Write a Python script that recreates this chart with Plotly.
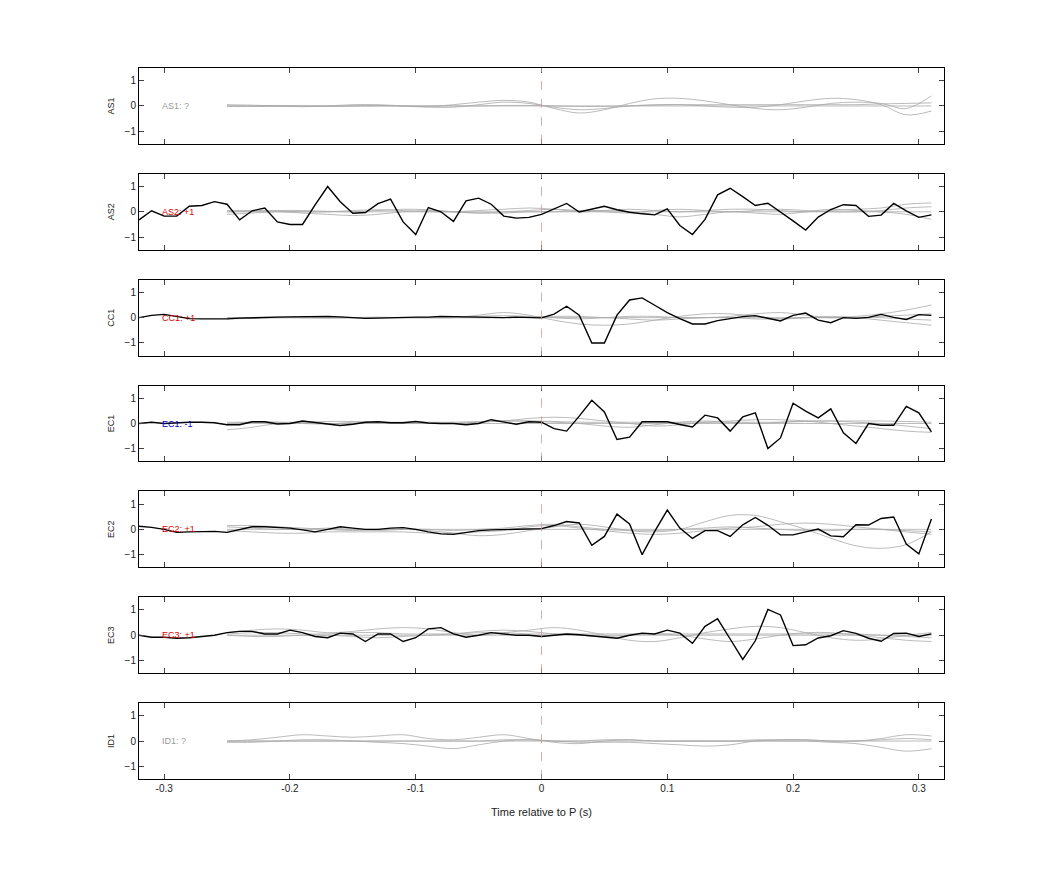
import numpy as np
import plotly.graph_objects as go

stations = ["AS1", "AS2", "CC1", "EC1", "EC2", "EC3", "ID1"]
labels = ["AS1: ?", "AS2: +1", "CC1: +1", "EC1: -1", "EC2: +1", "EC3: +1", "ID1: ?"]
label_colors = ["#999999", "#dd0000", "#dd0000", "#0000cc", "#dd0000", "#dd0000", "#999999"]

t_black = [round(-0.32 + 0.01 * i, 2) for i in range(64)]
black = {
    "AS2": [-0.32, 0.04, -0.17, -0.17, 0.22, 0.25, 0.4, 0.3, -0.32, 0.04, 0.15, -0.4, -0.5, -0.5, 0.27, 1.0,
            0.4, -0.06, -0.03, 0.32, 0.5, -0.4, -0.9, 0.17, 0.0, -0.38, 0.43, 0.54, 0.3, -0.17, -0.25, -0.22,
            -0.1, 0.1, 0.33, -0.01, 0.1, 0.22, 0.08, -0.02, -0.08, -0.12, 0.12, -0.54, -0.9, -0.3, 0.67, 0.93,
            0.6, 0.25, 0.34, 0.0, -0.36, -0.72, -0.21, 0.09, 0.28, 0.25, -0.18, -0.13, 0.33, 0.04, -0.22, -0.12],
    "CC1": [0.0, 0.09, 0.13, 0.05, -0.04, -0.05, -0.05, -0.05, -0.02, 0.0, 0.02, 0.02, 0.03, 0.04, 0.05, 0.05,
            0.03, 0.0, -0.03, -0.02, 0.0, 0.01, 0.02, 0.02, 0.05, 0.04, 0.03, 0.0, -0.01, 0.0, 0.02, 0.0,
            -0.01, 0.14, 0.45, 0.1, -1.0, -1.0, 0.1, 0.7, 0.78, 0.49, 0.2, -0.04, -0.25, -0.25, -0.12, -0.04,
            0.04, 0.08, -0.04, -0.13, 0.09, 0.18, -0.1, -0.2, 0.0, -0.03, 0.01, 0.13, 0.01, -0.07, 0.12, 0.09],
    "EC1": [0.0, 0.05, 0.0, 0.03, 0.05, 0.05, 0.03, -0.05, -0.05, 0.07, 0.07, -0.02, 0.0, 0.1, 0.05, -0.02,
            -0.08, -0.03, 0.05, 0.07, 0.03, 0.03, 0.08, 0.02, 0.0, 0.0, -0.05, 0.0, 0.15, 0.05, -0.03, 0.07,
            0.05, -0.2, -0.3, 0.29, 0.92, 0.46, -0.63, -0.54, 0.07, 0.07, 0.07, -0.04, -0.14, 0.33, 0.22, -0.3,
            0.26, 0.42, -0.99, -0.57, 0.8, 0.49, 0.22, 0.58, -0.37, -0.79, 0.0, -0.07, -0.07, 0.68, 0.42, -0.33],
    "EC2": [0.12, 0.08, 0.0, -0.12, -0.1, -0.08, -0.08, -0.12, 0.0, 0.1, 0.1, 0.07, 0.05, -0.02, -0.1, 0.0,
            0.1, 0.05, 0.0, 0.0, 0.05, 0.07, 0.0, -0.1, -0.18, -0.2, -0.12, -0.05, -0.02, 0.0, 0.0, 0.03,
            0.03, 0.15, 0.31, 0.25, -0.63, -0.28, 0.6, 0.21, -1.0, -0.08, 0.76, 0.05, -0.36, -0.05, -0.05, -0.28,
            0.18, 0.47, 0.16, -0.22, -0.22, -0.1, 0.01, -0.26, -0.29, 0.18, 0.17, 0.43, 0.49, -0.58, -0.97, 0.41],
    "EC3": [0.0, -0.08, -0.08, -0.12, -0.1, -0.05, 0.0, 0.1, 0.15, 0.15, 0.05, 0.05, 0.2, 0.1, -0.05, -0.1,
            0.08, 0.05, -0.25, 0.05, 0.05, -0.25, -0.1, 0.25, 0.3, 0.05, -0.08, 0.0, 0.1, 0.05, 0.0, 0.0,
            -0.05, 0.0, 0.05, 0.02, -0.02, -0.07, -0.12, 0.0, 0.08, 0.05, 0.2, 0.08, -0.32, 0.35, 0.65, -0.15,
            -0.96, -0.22, 1.02, 0.8, -0.41, -0.38, -0.11, -0.02, 0.18, 0.07, -0.12, -0.24, 0.07, 0.08, -0.05, 0.05],
}

t_gray = [round(-0.25 + 0.02 * i, 2) for i in range(29)]
gray = {
    "AS1": [
        [0.0, 0.0, 0.02, 0.0, -0.02, 0.0, 0.02, 0.0, -0.02, 0.05, 0.15, 0.22, 0.15, -0.1, -0.28, -0.15, 0.1, 0.28, 0.3, 0.2, 0.05, -0.1, -0.15, -0.05, 0.1, 0.15, 0.1, -0.1, 0.4],
        [0.05, 0.03, 0.0, -0.03, 0.0, 0.05, 0.05, 0.0, -0.05, -0.05, 0.05, 0.15, 0.1, -0.05, -0.15, -0.1, 0.0, 0.05, 0.05, 0.0, -0.05, -0.05, 0.05, 0.2, 0.3, 0.25, 0.05, -0.35, -0.2],
        [0.0, 0.0, 0.0, 0.0, 0.0, 0.0, 0.0, 0.0, 0.0, 0.0, 0.0, 0.02, 0.02, 0.0, -0.02, -0.02, 0.0, 0.03, 0.05, 0.05, 0.05, 0.05, 0.05, 0.05, 0.05, 0.05, 0.08, 0.1, 0.12],
        [-0.02, -0.02, -0.02, 0.0, 0.0, 0.0, 0.0, 0.0, 0.0, 0.0, 0.0, 0.0, 0.0, 0.0, 0.0, 0.0, 0.0, 0.0, 0.0, 0.0, 0.0, 0.0, 0.0, 0.0, 0.0, 0.0, 0.0, 0.0, 0.0],
    ],
    "AS2": [
        [0.05, 0.05, 0.03, 0.0, 0.0, 0.05, 0.08, 0.05, 0.0, 0.0, 0.05, 0.1, 0.15, 0.1, 0.0, 0.05, 0.1, 0.05, 0.0, 0.05, 0.1, 0.1, 0.05, 0.0, 0.05, 0.1, 0.15, 0.3, 0.35],
        [-0.1, -0.05, 0.0, -0.05, -0.1, -0.15, -0.1, 0.0, 0.05, 0.0, -0.05, -0.05, 0.0, 0.0, 0.05, 0.05, 0.0, -0.1, -0.2, -0.1, 0.0, -0.05, -0.1, 0.0, 0.1, 0.05, 0.0, -0.1, -0.3],
        [0.0, 0.0, 0.0, 0.0, 0.0, 0.0, 0.0, 0.0, 0.0, 0.0, 0.0, 0.0, 0.0, 0.0, 0.0, 0.0, 0.0, 0.0, 0.0, 0.0, 0.0, 0.0, 0.0, 0.0, 0.0, 0.0, 0.0, 0.0, 0.0],
        [0.0, 0.02, 0.05, 0.05, 0.02, 0.0, 0.05, 0.1, 0.08, 0.0, -0.05, 0.0, 0.05, 0.1, 0.05, 0.0, -0.05, 0.05, 0.1, 0.05, 0.0, 0.05, 0.1, 0.05, 0.0, 0.0, 0.05, 0.15, 0.2],
    ],
    "CC1": [
        [0.0, 0.0, 0.02, 0.0, -0.02, 0.0, 0.02, 0.0, 0.0, 0.0, 0.1, 0.2, 0.1, -0.1, -0.25, -0.3, -0.25, -0.1, 0.05, 0.15, 0.15, 0.05, -0.05, 0.0, 0.05, 0.0, -0.1, -0.2, -0.3],
        [0.0, 0.0, 0.0, 0.0, 0.0, 0.0, 0.0, 0.0, 0.0, 0.0, 0.05, 0.08, 0.05, 0.0, -0.05, 0.0, 0.05, 0.05, 0.0, 0.0, 0.05, 0.15, 0.2, 0.1, 0.0, 0.05, 0.15, 0.3, 0.5],
        [-0.05, -0.03, 0.0, 0.0, 0.0, 0.0, 0.0, 0.0, 0.0, 0.0, 0.0, 0.0, 0.03, 0.05, 0.05, 0.0, -0.05, -0.1, -0.05, 0.0, 0.0, -0.05, -0.05, 0.0, 0.0, 0.0, 0.0, -0.05, -0.1],
        [0.0, 0.0, 0.0, 0.0, 0.0, 0.0, 0.0, 0.0, 0.0, 0.0, 0.0, 0.0, 0.0, 0.0, 0.0, 0.0, 0.0, 0.0, 0.0, 0.0, 0.0, 0.0, 0.0, 0.0, 0.0, 0.0, 0.05, 0.1, 0.15],
    ],
    "EC1": [
        [-0.25, -0.15, 0.0, 0.05, 0.0, 0.0, 0.0, 0.0, 0.0, 0.0, 0.05, 0.1, 0.2, 0.25, 0.2, 0.1, 0.0, -0.1, -0.05, 0.05, 0.1, 0.15, 0.15, 0.1, 0.0, -0.1, -0.2, -0.3, -0.35],
        [0.0, 0.05, 0.05, 0.0, -0.02, 0.05, 0.05, 0.0, 0.0, 0.0, 0.05, 0.1, 0.1, 0.05, 0.0, -0.1, -0.15, -0.05, 0.05, 0.1, 0.05, 0.0, 0.05, 0.1, 0.1, 0.05, 0.0, -0.1, -0.2],
        [0.0, 0.0, 0.0, 0.0, 0.0, 0.0, 0.0, 0.0, 0.0, 0.0, 0.0, 0.0, 0.0, 0.0, 0.0, 0.0, 0.0, 0.0, 0.0, 0.0, 0.0, 0.0, 0.0, 0.0, 0.0, 0.0, 0.0, 0.0, 0.0],
        [0.05, 0.05, 0.05, 0.05, 0.08, 0.08, 0.05, 0.05, 0.05, 0.05, 0.08, 0.1, 0.1, 0.08, 0.05, 0.05, 0.05, 0.05, 0.05, 0.05, 0.05, 0.05, 0.05, 0.08, 0.1, 0.1, 0.1, 0.08, 0.05],
    ],
    "EC2": [
        [0.15, 0.15, 0.1, 0.05, 0.0, -0.05, 0.0, 0.0, -0.05, -0.15, -0.25, -0.2, -0.05, 0.1, 0.2, 0.1, -0.05, -0.1, 0.0, 0.3, 0.55, 0.55, 0.3, 0.0, -0.35, -0.65, -0.75, -0.6, -0.1],
        [-0.05, -0.1, -0.15, -0.15, -0.1, -0.1, -0.1, -0.1, -0.15, -0.15, -0.1, -0.05, 0.1, 0.15, 0.05, -0.05, -0.15, -0.2, -0.15, -0.05, 0.05, 0.1, 0.2, 0.25, 0.2, 0.1, 0.0, -0.1, -0.2],
        [0.0, 0.0, 0.0, 0.0, 0.0, 0.0, 0.0, 0.0, 0.0, 0.0, 0.0, 0.0, 0.0, 0.0, 0.0, 0.0, 0.0, 0.0, 0.0, 0.0, 0.0, 0.0, 0.0, 0.0, 0.0, 0.0, 0.0, 0.0, 0.0],
        [0.1, 0.05, 0.0, 0.0, 0.05, 0.0, -0.05, 0.0, 0.0, -0.05, 0.0, 0.05, 0.15, 0.2, 0.1, 0.0, -0.05, -0.05, 0.0, 0.05, 0.1, 0.05, 0.0, -0.05, -0.05, 0.0, 0.0, -0.05, -0.1],
    ],
    "EC3": [
        [0.1, 0.2, 0.25, 0.2, 0.1, 0.15, 0.25, 0.3, 0.25, 0.1, 0.0, 0.1, 0.2, 0.3, 0.2, 0.0, -0.2, -0.25, -0.1, 0.1, 0.25, 0.35, 0.3, 0.1, -0.1, -0.2, -0.15, 0.0, 0.1],
        [0.0, -0.05, -0.05, 0.0, 0.0, -0.05, -0.1, -0.05, 0.0, 0.05, 0.15, 0.2, 0.15, 0.05, 0.0, -0.05, 0.0, 0.05, 0.0, -0.15, -0.25, -0.15, 0.0, 0.1, 0.1, 0.0, -0.1, -0.2, -0.25],
        [0.0, 0.0, 0.0, 0.0, 0.0, 0.0, 0.0, 0.0, 0.0, 0.0, 0.0, 0.0, 0.0, 0.0, 0.0, 0.0, 0.0, 0.0, 0.0, 0.0, 0.0, 0.0, 0.0, 0.0, 0.0, 0.0, 0.0, 0.0, 0.0],
        [0.05, 0.1, 0.1, 0.05, 0.05, 0.1, 0.1, 0.05, 0.05, 0.05, 0.1, 0.1, 0.05, 0.05, 0.05, 0.05, 0.05, 0.05, 0.05, 0.05, 0.05, 0.05, 0.05, 0.05, 0.05, 0.05, 0.0, -0.05, -0.1],
    ],
    "ID1": [
        [0.0, 0.05, 0.15, 0.25, 0.2, 0.15, 0.2, 0.25, 0.1, 0.05, 0.15, 0.25, 0.1, -0.05, -0.1, 0.0, 0.05, 0.0, 0.0, 0.0, 0.0, 0.0, 0.05, 0.05, 0.0, 0.0, 0.1, 0.25, 0.2],
        [0.0, 0.0, 0.0, 0.0, 0.0, 0.0, -0.05, -0.1, -0.2, -0.3, -0.15, 0.0, 0.05, 0.0, -0.05, -0.05, -0.05, -0.1, -0.15, -0.2, -0.15, 0.0, 0.0, 0.0, -0.05, -0.1, -0.25, -0.4, -0.3],
        [0.0, 0.0, 0.0, 0.0, 0.0, 0.0, 0.0, 0.0, 0.0, 0.0, 0.0, 0.0, 0.0, 0.0, 0.0, 0.0, 0.0, 0.0, 0.0, 0.0, 0.0, 0.0, 0.0, 0.0, 0.0, 0.0, 0.0, 0.0, 0.0],
        [-0.05, -0.05, 0.0, 0.05, 0.05, 0.0, 0.0, 0.0, 0.0, 0.0, 0.0, 0.05, 0.05, 0.0, 0.0, 0.05, 0.05, 0.0, 0.0, 0.0, 0.0, 0.05, 0.05, 0.05, 0.0, 0.0, 0.05, 0.1, 0.05],
    ],
}

x_ticks = [-0.3, -0.2, -0.1, 0, 0.1, 0.2, 0.3]
x_tick_labels = ["-0.3", "-0.2", "-0.1", "0", "0.1", "0.2", "0.3"]

fig = go.Figure()
H = 712.0
for i, st in enumerate(stations):
    n = "" if i == 0 else str(i + 1)
    xa, ya = "x" + n, "y" + n
    for g in gray[st]:
        fig.add_trace(go.Scatter(x=t_gray, y=g, mode="lines", xaxis=xa, yaxis=ya,
                                 line=dict(color="rgba(170,170,170,0.8)", width=1, shape="spline"),
                                 showlegend=False, hoverinfo="skip"))
    if st in black:
        fig.add_trace(go.Scatter(x=t_black, y=black[st], mode="lines", xaxis=xa, yaxis=ya,
                                 line=dict(color="black", width=1.4), showlegend=False))
    top = min(1.0, 1 - (106 * i) / H)
    bot = max(0.0, 1 - (106 * i + 76) / H)
    last = i == len(stations) - 1
    fig.layout["xaxis" + n] = dict(domain=[0, 1], anchor=ya, range=[-0.32, 0.32],
                                   tickvals=x_ticks, ticktext=x_tick_labels, showticklabels=last,
                                   ticks="inside", ticklen=5, mirror="ticks", showline=True,
                                   linecolor="black", linewidth=1, showgrid=False, zeroline=False,
                                   tickfont=dict(size=10, color="#222"))
    fig.layout["yaxis" + n] = dict(domain=[bot, top], anchor=xa, range=[-1.5, 1.5],
                                   tickvals=[-1, 0, 1], ticks="inside", ticklen=5, mirror="ticks",
                                   showline=True, linecolor="black", linewidth=1, showgrid=False,
                                   zeroline=False, tickfont=dict(size=10, color="#222"),
                                   title=dict(text=st, font=dict(size=9, color="#222"), standoff=8))
    fig.add_shape(type="line", xref=xa, yref=ya, x0=0, x1=0, y0=-1.5, y1=1.5,
                  line=dict(color="rgba(200,150,150,0.75)", width=1, dash="dash"))
    fig.add_annotation(xref=xa, yref=ya, x=-0.303, y=0, text=labels[i], showarrow=False,
                       xanchor="left", font=dict(size=9, color=label_colors[i]))

fig.layout["xaxis7"].title = dict(text="Time relative to P (s)", font=dict(size=11, color="#222"))
fig.update_layout(width=1042, height=875, plot_bgcolor="white", paper_bgcolor="white",
                  margin=dict(l=131, r=106, t=60, b=104),
                  font=dict(family="Liberation Sans, Arial, sans-serif"))
fig.write_html("out.html")
